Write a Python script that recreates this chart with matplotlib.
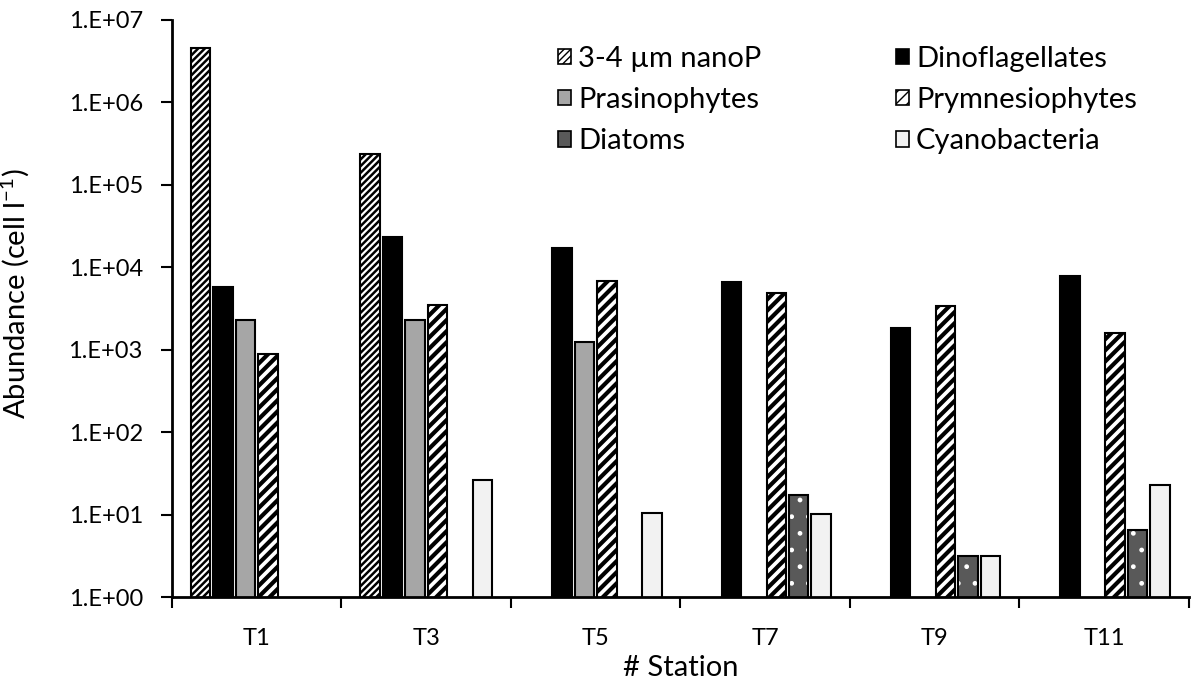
import matplotlib
matplotlib.use("Agg")
import matplotlib.pyplot as plt
import numpy as np
from matplotlib.patches import Patch
from matplotlib.ticker import FixedLocator, FuncFormatter, NullFormatter

plt.rcParams['font.family'] = ['Lato', 'DejaVu Sans']
plt.rcParams['mathtext.fontset'] = 'custom'
plt.rcParams['mathtext.rm'] = 'Lato'

# stations on the x axis
stations = ["T1", "T3", "T5", "T7", "T9", "T11"]

# abundance (cell l-1), nan = not present
nanoP = [4.6e6, 2.35e5, np.nan, np.nan, np.nan, np.nan]
dino = [5.8e3, 2.3e4, 1.7e4, 6.6e3, 1.83e3, 7.9e3]
prasino = [2.3e3, 2.3e3, 1.24e3, np.nan, np.nan, np.nan]
prymn = [890, 3.5e3, 6.8e3, 4.9e3, 3.4e3, 1.6e3]
diatoms = [np.nan, np.nan, np.nan, 17.2, 3.2, 6.5]
cyano = [np.nan, 26.5, 10.5, 10.3, 3.2, 23]

series = [
    ("3-4 µm nanoP", nanoP, dict(facecolor="white", hatch="/////"), 1.8),
    ("Dinoflagellates", dino, dict(facecolor="black"), 1.0),
    ("Prasinophytes", prasino, dict(facecolor="#a6a6a6"), 1.0),
    ("Prymnesiophytes", prymn, dict(facecolor="white", hatch="///"), 3.0),
    ("Diatoms", diatoms, dict(facecolor="#595959"), 1.0),
    ("Cyanobacteria", cyano, dict(facecolor="#f2f2f2"), 1.0),
]

fig = plt.figure(figsize=(11.91, 6.84), dpi=100)
ax = fig.add_axes([0.1444, 0.1266, 0.8536, 0.8446])

x = np.arange(len(stations))
step = 0.1327
width = 0.115
handles = {}
for i, (name, vals, style, hlw) in enumerate(series):
    pos = x + (i - 2.5) * step
    vals = np.array(vals, dtype=float)
    with plt.rc_context({"hatch.linewidth": hlw}):
        if name == "Diatoms":
            # dark fill with white dots, then black outline on top
            ax.bar(pos, vals, width, facecolor="#595959", edgecolor="white",
                   hatch=".", linewidth=0, zorder=2)
            ax.bar(pos, vals, width, facecolor="none", edgecolor="black",
                   linewidth=1.5, zorder=3)
            handles[name] = Patch(facecolor="#595959", edgecolor="black",
                                  linewidth=1.2, label=name)
        else:
            bars = ax.bar(pos, vals, width, edgecolor="black", linewidth=1.5,
                          zorder=2, **style)
            handles[name] = Patch(edgecolor="black", linewidth=1.2, label=name,
                                  **style)
            for b in list(bars) + [handles[name]]:
                if hasattr(b, "set_hatch_linewidth"):
                    b.set_hatch_linewidth(hlw)

ax.set_yscale("log")
ax.set_ylim(1, 1e7)
ax.set_xlim(-0.5, len(stations) - 0.5)

ax.yaxis.set_major_locator(FixedLocator([10.0 ** k for k in range(8)]))
ax.yaxis.set_minor_formatter(NullFormatter())
ax.yaxis.set_minor_locator(FixedLocator([]))
ax.yaxis.set_major_formatter(FuncFormatter(lambda v, p: "1.E+%02d" % round(np.log10(v))))

ax.set_xticks(x)
ax.set_xticklabels(stations)
ax.set_xticks(np.arange(len(stations) + 1) - 0.5, minor=True)
ax.tick_params(axis="x", which="major", length=0, pad=22, labelsize=17)
ax.tick_params(axis="x", which="minor", length=8, width=1.5, direction="out")
ax.tick_params(axis="y", which="major", length=8, width=1.5, direction="out",
               labelsize=17, pad=13)

for s in ["top", "right"]:
    ax.spines[s].set_visible(False)
for s in ["left", "bottom"]:
    ax.spines[s].set_linewidth(2)

ax.set_ylabel(r"Abundance (cell l$^{\mathregular{-1}}$)", fontsize=21)
ax.yaxis.set_label_coords(-0.138, 0.525)
ax.set_xlabel("# Station", fontsize=21, labelpad=4)

order = ["3-4 µm nanoP", "Prasinophytes", "Diatoms",
         "Dinoflagellates", "Prymnesiophytes", "Cyanobacteria"]
ax.legend(handles=[handles[n] for n in order], ncol=2, frameon=False,
          fontsize=21, loc="upper left", bbox_to_anchor=(0.368, 0.975),
          handlelength=0.45, handleheight=0.45, handletextpad=0.25,
          columnspacing=4.6, labelspacing=0.52, borderaxespad=0)

fig.savefig("out.png", dpi=100)
